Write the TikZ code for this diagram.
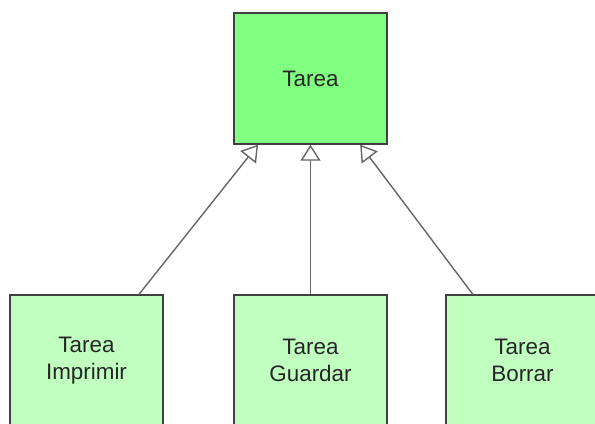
\documentclass[tikz,border=0pt]{standalone}
\usepackage{fontspec}
\setmainfont{Liberation Sans}
\usetikzlibrary{arrows.meta}
\definecolor{verdeFuerte}{HTML}{80FF80}
\definecolor{verdeClaro}{HTML}{C0FFC0}
\begin{document}
\begin{tikzpicture}[x=1bp, y=1bp, font=\fontsize{22.5}{27}\selectfont, text=black!85,
  caja/.style={draw=black!75, line width=1.4bp, minimum width=153bp, minimum height=131bp, align=center, inner sep=0pt},
  hereda/.style={-{Triangle[open, length=16bp, width=20bp]}, draw=black!60, line width=1.4bp}]
\useasboundingbox (0,0) rectangle (595,423);
\clip (0,0) rectangle (595,423);
% clase base
\node[caja, fill=verdeFuerte] (tarea) at (310.5,344.5) {Tarea};
% subclases
\node[caja, fill=verdeClaro] (imprimir) at (86.5,62.5) {Tarea\\Imprimir};
\node[caja, fill=verdeClaro] (guardar) at (310.5,62.5) {Tarea\\Guardar};
\node[caja, fill=verdeClaro] (borrar) at (522.5,62.5) {Tarea\\Borrar};
\draw[hereda] (imprimir) -- (tarea);
\draw[hereda] (guardar) -- (tarea);
\draw[hereda] (borrar) -- (tarea);
\end{tikzpicture}
\end{document}
